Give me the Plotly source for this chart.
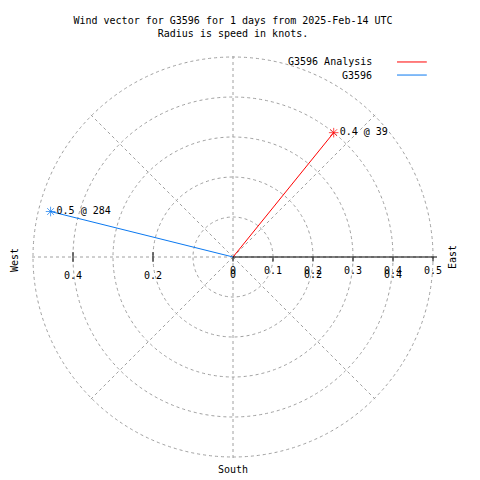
import plotly.graph_objects as go

series_names = ["G3596 Analysis", "G3596"]
series_colors = ["#ff0000", "#0a78f0"]
speeds = [0.4, 0.47]
directions = [39, 284]
point_labels = ["0.4 @ 39", "0.5 @ 284"]
radial_ticks = [0, 0.1, 0.2, 0.3, 0.4, 0.5]
west_ticks = [0.2, 0.4]
dup_ticks = [0, 0.2, 0.4]

FONT = "DejaVu Sans Mono"
fig = go.Figure()

for name, col, r, th, lab in zip(series_names, series_colors, speeds, directions, point_labels):
    fig.add_trace(go.Scatterpolar(
        r=[0, r], theta=[th, th], mode="lines+markers+text",
        line=dict(color=col, width=1),
        marker=dict(symbol=["circle", "asterisk-open"], size=[0.1, 8], color=col,
                    line=dict(color=col, width=1)),
        text=["", lab], textposition="middle right",
        textfont=dict(family=FONT, size=10, color="black"),
        name=name, showlegend=False, cliponaxis=False))

# west side extra ticks
fig.add_trace(go.Scatterpolar(
    r=west_ticks, theta=[270] * len(west_ticks), mode="markers",
    marker=dict(symbol="line-ns-open", size=7, color="black", line=dict(width=1, color="black")),
    showlegend=False, hoverinfo="skip"))
# west side labels
fig.add_trace(go.Scatterpolar(
    r=west_ticks, theta=[270] * len(west_ticks), mode="markers+text",
    marker=dict(size=22, opacity=0),
    text=[str(v) for v in west_ticks], textposition="bottom center",
    textfont=dict(family=FONT, size=10, color="black"), showlegend=False, hoverinfo="skip"))
# duplicate labels on east side
fig.add_trace(go.Scatterpolar(
    r=dup_ticks, theta=[90] * len(dup_ticks), mode="markers+text",
    marker=dict(size=20, opacity=0),
    text=[("%g" % v) for v in dup_ticks], textposition="bottom center",
    textfont=dict(family=FONT, size=10, color="black"), showlegend=False, hoverinfo="skip"))

fig.update_layout(
    width=472, height=472,
    margin=dict(l=21, r=43, t=45, b=19),
    paper_bgcolor="white", plot_bgcolor="white",
    font=dict(family=FONT, size=10, color="black"),
    title=dict(text="Wind vector for G3596 for 1 days from 2025-Feb-14 UTC<br>Radius is speed in knots.",
               x=0.5, xref="paper", xanchor="center", y=0.966, yanchor="top",
               font=dict(family=FONT, size=10, color="black")),
    showlegend=False,
    polar=dict(
        bgcolor="white",
        angularaxis=dict(rotation=90, direction="clockwise", showticklabels=False, ticks="",
                         dtick=45, showline=False, showgrid=True, gridcolor="#a0a0a0",
                         griddash="dot", gridwidth=1),
        radialaxis=dict(range=[0, 0.51], angle=0, tickvals=radial_ticks,
                        ticktext=[("%g" % v) for v in radial_ticks], side="clockwise",
                        ticks="outside", ticklen=4, tickcolor="black", showline=True,
                        linecolor="black", linewidth=1, gridcolor="#a0a0a0", griddash="dot",
                        tickfont=dict(family=FONT, size=10, color="black")),
    ),
)

# custom gnuplot-style legend (text then line sample)
legend_y = [0.978, 0.946]
for name, col, yy in zip(series_names, series_colors, legend_y):
    fig.add_annotation(text=name, xref="paper", yref="paper", x=0.845, y=yy,
                       xanchor="right", yanchor="middle", showarrow=False,
                       font=dict(family=FONT, size=10, color="black"))
    fig.add_shape(type="line", xref="paper", yref="paper", x0=0.902, x1=0.975, y0=yy, y1=yy,
                  line=dict(color=col, width=1))

fig.add_annotation(text="East", xref="paper", yref="paper", x=1.037, y=0.5, textangle=-90,
                   xanchor="center", yanchor="middle",
                   showarrow=False, font=dict(family=FONT, size=10))
fig.add_annotation(text="West", xref="paper", yref="paper", x=-0.034, y=0.493, textangle=-90,
                   xanchor="center", yanchor="middle",
                   showarrow=False, font=dict(family=FONT, size=10))
fig.add_annotation(text="South", xref="paper", yref="paper", x=0.5, y=-0.022,
                   xanchor="center", yanchor="middle",
                   showarrow=False, font=dict(family=FONT, size=10))

fig.write_html("out.html")
